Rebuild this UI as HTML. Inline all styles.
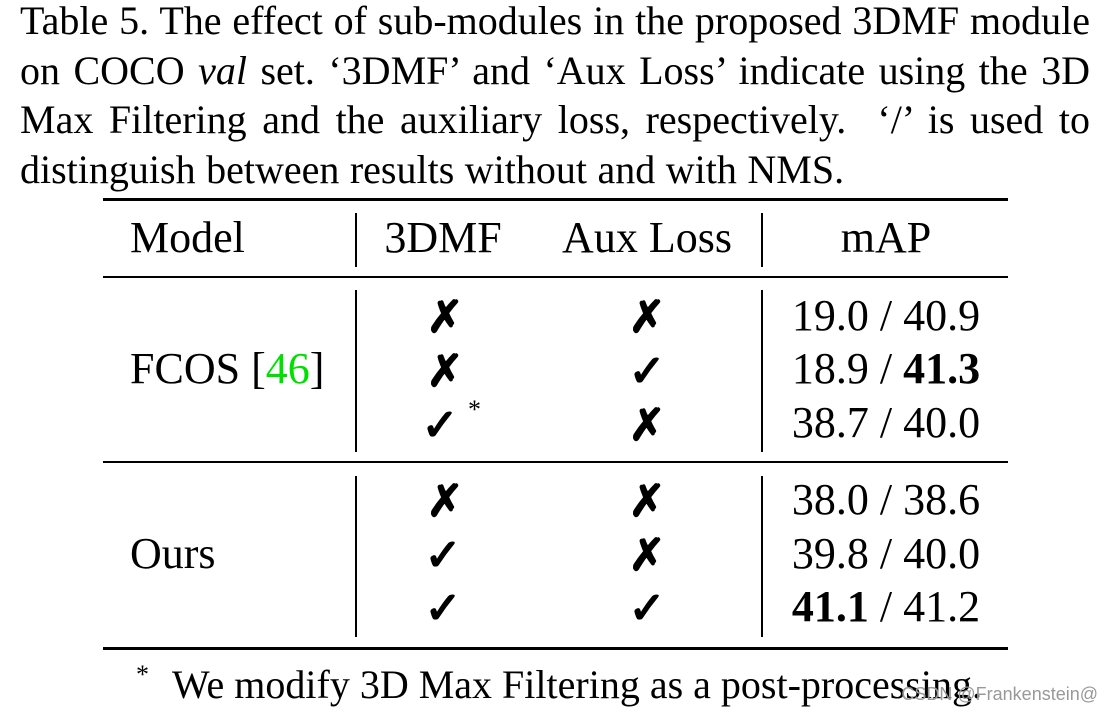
<!DOCTYPE html>
<html><head><meta charset="utf-8"><style>
html,body{margin:0;padding:0;background:#fff;width:1112px;height:713px;overflow:hidden}
svg{display:block}
text{font-family:"Liberation Serif",serif;fill:#000}
.s{font-family:"DejaVu Sans",sans-serif}
.cap{position:absolute;left:20px;top:-4px;width:1070px;font-family:"Liberation Serif",serif;font-size:40px;line-height:49.7px;text-align:justify;text-align-last:left;word-spacing:0.5px}
</style></head><body>
<div class="cap">Table 5. The effect of sub-modules in the proposed 3DMF module on COCO <i>val</i> set. ‘3DMF’ and ‘Aux Loss’ indicate using the 3D Max Filtering and the auxiliary loss, respectively. &nbsp;‘/’ is used to distinguish between results without and with NMS.</div>
<svg width="1112" height="713" style="position:absolute;left:0;top:0">
<rect x="103" y="198" width="905" height="3"/>
<rect x="103" y="276" width="905" height="2"/>
<rect x="103" y="461" width="905" height="2"/>
<rect x="103" y="647" width="905" height="3"/>
<g fill="#000">
<rect x="355" y="213" width="2" height="54"/><rect x="761" y="213" width="2" height="54"/>
<rect x="355" y="290" width="2" height="162"/><rect x="761" y="290" width="2" height="162"/>
<rect x="355" y="476" width="2" height="161"/><rect x="761" y="476" width="2" height="161"/>
</g>
<g font-size="44">
<text x="130" y="252">Model</text>
<text x="443" y="252" text-anchor="middle">3DMF</text>
<text x="647" y="252" text-anchor="middle">Aux Loss</text>
<text x="886" y="252" text-anchor="middle">mAP</text>
<text x="130" y="383">FCOS [<tspan style="fill:#00e000">46</tspan>]</text>
<text x="130" y="568">Ours</text>
<text x="886" y="330" text-anchor="middle">19.0 / 40.9</text>
<text x="886" y="383" text-anchor="middle">18.9 / <tspan font-weight="bold">41.3</tspan></text>
<text x="886" y="437" text-anchor="middle">38.7 / 40.0</text>
<text x="886" y="514" text-anchor="middle">38.0 / 38.6</text>
<text x="886" y="568" text-anchor="middle">39.8 / 40.0</text>
<text x="886" y="621" text-anchor="middle"><tspan font-weight="bold">41.1</tspan> / 41.2</text>
</g>
<g font-size="44" text-anchor="middle" stroke="#000" stroke-width="1.6">
<text class="s" x="445" y="332">✗</text><text class="s" x="647" y="332">✗</text>
<text class="s" x="445" y="386">✗</text><text class="s" x="647" y="386">✓</text>
<text class="s" x="440" y="440">✓</text><text class="s" x="647" y="440">✗</text>
<text class="s" x="445" y="516">✗</text><text class="s" x="647" y="516">✗</text>
<text class="s" x="443" y="570">✓</text><text class="s" x="647" y="570">✗</text>
<text class="s" x="443" y="623">✓</text><text class="s" x="647" y="623">✓</text>
</g>
<text x="468" y="418" font-size="26">*</text>
<text x="136" y="683" font-size="26">*</text>
<text x="172" y="698" font-size="40">We modify 3D Max Filtering as a post-processing.</text>
<text x="1098" y="700" font-size="18" text-anchor="end" style="font-family:'Liberation Sans',sans-serif;fill:#999">CSDN @Frankenstein@</text>
</svg>
</body></html>
